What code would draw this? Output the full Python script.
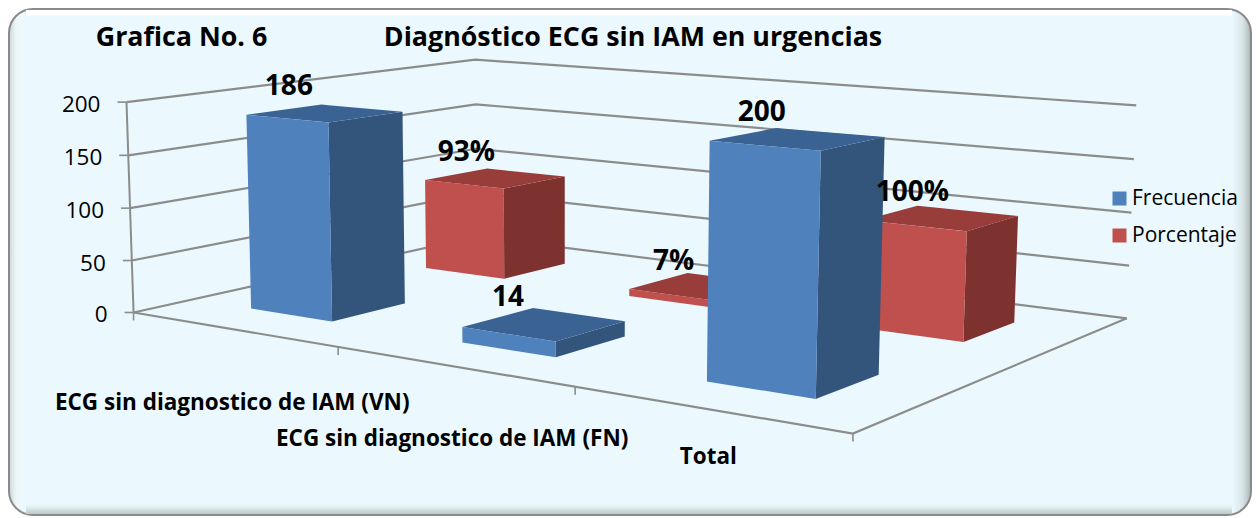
import numpy as np, pandas as pd, altair as alt

# ---- data
categories = ["ECG sin diagnostico de IAM (VN)", "ECG sin diagnostico de IAM (FN)", "Total"]
series = ["Frecuencia", "Porcentaje"]
frecuencia = [186, 14, 200]
porcentaje = [93, 7, 100]
y_ticks = [0, 50, 100, 150, 200]
title_left = "Grafica No. 6"
title_main = "Diagnóstico ECG sin IAM en urgencias"

# ---- 3D camera of the chart box: (category axis u, depth v, value h) -> canvas
box_world = [(0,0,0),(1,0,0),(1,1,0),(0,1,0),(0,0,200),(0,1,200),(1,1,200)]
box_image = [(134,313),(853,433),(1127,319),(476,236),(126,102),(476,60),(1136,105)]
A, b = [], []
for (u, v, h), (x, y) in zip(box_world, box_image):
    h = h / 200
    A.append([u,v,h,1,0,0,0,0,-x*u,-x*v,-x*h]); b.append(x)
    A.append([0,0,0,0,u,v,h,1,-y*u,-y*v,-y*h]); b.append(y)
P = np.append(np.linalg.lstsq(np.array(A, float), np.array(b, float), rcond=None)[0], 1).reshape(3, 4)

def proj(u, v, h):
    w = P @ np.array([u, v, h / 200, 1.0])
    return float(w[0] / w[2]), float(w[1] / w[2])

def polygon_rows(pts, fid, shade):
    xs = sorted({round(p[0], 3) for p in pts})
    rows = []
    n = len(pts)
    for xq in xs:
        ys = []
        for i in range(n):
            (x0, y0), (x1, y1) = pts[i], pts[(i + 1) % n]
            lo, hi = min(x0, x1), max(x0, x1)
            if lo - 0.002 <= xq <= hi + 0.002:
                if abs(x1 - x0) < 1e-6:
                    ys += [y0, y1]
                else:
                    t = min(1, max(0, (xq - x0) / (x1 - x0)))
                    ys.append(y0 + t * (y1 - y0))
        rows.append(dict(x=xq, y=min(ys), y2=max(ys), face=fid, shade=shade))
    return rows

BAR = 0.4 / 3          # bar width along the category axis
rows_face, rows_label = [], []
fid = 0
for s, vals, fmt in [(1, porcentaje, "{}%"), (0, frecuencia, "{}")]:   # back row first
    v0 = 0.15 + 0.5 * s
    v1 = v0 + 0.2
    for c, val in enumerate(vals):
        u0 = (c + 0.5) / 3 - BAR / 2
        u1 = u0 + BAR
        name = series[s]
        side = [proj(u1, v0, 0), proj(u1, v1, 0), proj(u1, v1, val), proj(u1, v0, val)]
        top = [proj(u0, v0, val), proj(u1, v0, val), proj(u1, v1, val), proj(u0, v1, val)]
        front = [proj(u0, v0, 0), proj(u1, v0, 0), proj(u1, v0, val), proj(u0, v0, val)]
        for pts, shade in [(side, name + " lado"), (top, name + " tapa"), (front, name)]:
            rows_face += polygon_rows(pts, fid, shade)
            fid += 1
        cx, cy = proj((u0 + u1) / 2, (v0 + v1) / 2, val)
        rows_label.append(dict(x=cx - (29 if s == 1 else 36), y=cy - 26 + s, t=fmt.format(val)))
df_face = pd.DataFrame(rows_face)
df_label = pd.DataFrame(rows_label)

# lines of the box
rows_line = []
def add_line(pts, lid, w):
    for i, (x, y) in enumerate(pts):
        rows_line.append(dict(x=x, y=y, lid=lid, i=i, w=w))
lid = 0
for t in y_ticks:
    add_line([proj(0, 0, t), proj(0, 1, t), proj(1, 1, t)], lid, 2.2); lid += 1
    x, y = proj(0, 0, t)
    add_line([(x - 9, y), (x, y)], lid, 1.6); lid += 1
add_line([proj(0, 0, 0), proj(1, 0, 0), proj(1, 1, 0)], lid, 2.2); lid += 1
add_line([proj(0, 0, 0), proj(0, 0, 200)], lid, 2); lid += 1
for k in range(4):
    x, y = proj(k / 3, 0, 0)
    add_line([(x, y), (x, y + 8)], lid, 1.6); lid += 1
df_line = pd.DataFrame(rows_line)

df_ytext = pd.DataFrame([dict(x=proj(0, 0, t)[0] - 26, y=proj(0, 0, t)[1] + 3, t=str(t)) for t in y_ticks])
cat_y = [403, 439, 457]
df_cat = pd.DataFrame([dict(x=proj((i + .5) / 3, 0, 0)[0], y=cat_y[i], t=c) for i, c in enumerate(categories)])
df_title = pd.DataFrame([dict(x=181.5, y=38, t=title_left), dict(x=633, y=38, t=title_main)])

W, H = 1244, 508
X = alt.X("x:Q", scale=alt.Scale(domain=[8, 8 + W], range=[0, W]), axis=None)
Y = alt.Y("y:Q", scale=alt.Scale(domain=[8, 8 + H], range=[0, H]), axis=None)
FONT = "Open Sans"

def grad_h(stops):
    return alt.LinearGradient(gradient="linear", x1=0, x2=1, y1=0, y2=0,
                              stops=[alt.GradientStop(color=c, offset=o) for o, c in stops])
def grad_v(stops):
    return alt.LinearGradient(gradient="linear", x1=0, x2=0, y1=0, y2=1,
                              stops=[alt.GradientStop(color=c, offset=o) for o, c in stops])

def box(x0, x1, y0, y1, **kw):
    d = pd.DataFrame([dict(x=x0, x2v=x1, y=y0, y2v=y1)])
    return alt.Chart(d).mark_rect(**kw).encode(X, alt.X2("x2v:Q"), Y, alt.Y2("y2v:Q"))

BG = "#EBF9FE"
frame = box(9, 1251, 9, 515, cornerRadius=24, stroke="#8a8a8a", strokeWidth=2,
            fill=grad_h([(0, "#cdd6d8"), (0.006, "#eef7f9"), (0.012, BG), (0.985, BG), (0.993, "#d9e6e8"), (1, "#aab5b6")]))
top_band = box(26, 1232, 10, 16, fill=grad_v([(0, "#ffffff"), (0.8, "#ffffff"), (1, BG)]))
bottom_band = box(26, 1232, 504, 514, fill=grad_v([(0, BG), (0.3, "#e3f0f3"), (1, "#bcc8ca")]))

lines = alt.Chart(df_line).mark_line(color="#8c8c8c").encode(
    X, Y, alt.Detail("lid:N"), alt.Order("i:Q"), alt.StrokeWidth("w:Q", scale=None))

shades = {"Frecuencia": "#4F81BD", "Porcentaje": "#C0504D",
          "Frecuencia lado": "#33557C", "Porcentaje lado": "#7D322F",
          "Frecuencia tapa": "#3A6394", "Porcentaje tapa": "#983D3A"}
faces = alt.Chart(df_face).mark_area(orient="vertical", strokeWidth=0.6, interpolate="linear").encode(
    X, Y, alt.Y2("y2:Q"), alt.Detail("face:N"),
    alt.Color("shade:N",
              scale=alt.Scale(domain=list(shades), range=list(shades.values())),
              legend=alt.Legend(values=series, title=None, orient="none", legendX=1101, legendY=180,
                                symbolType="square", symbolSize=196, symbolStrokeWidth=0,
                                labelFont=FONT, labelFontSize=21, labelColor="#000000",
                                labelOffset=2, rowPadding=15, padding=0)))

def text(df, size, bold=False, align="center"):
    return alt.Chart(df).mark_text(font=FONT, fontSize=size, fontWeight="bold" if bold else "normal",
                                   color="#000000", align=align, baseline="middle").encode(X, Y, alt.Text("t:N"))

chart = alt.layer(
    frame, top_band, bottom_band, lines, faces,
    text(df_ytext, 22.5, align="right"),
    text(df_cat, 22.5, bold=True),
    text(df_label, 28, bold=True),
    text(df_title, 26.8, bold=True),
).properties(width=W, height=H, padding=0, background="white",
             autosize=alt.AutoSizeParams(type="none")).configure_view(stroke=None)

chart.save("out.html", embed_options={"renderer": "svg", "actions": False})
